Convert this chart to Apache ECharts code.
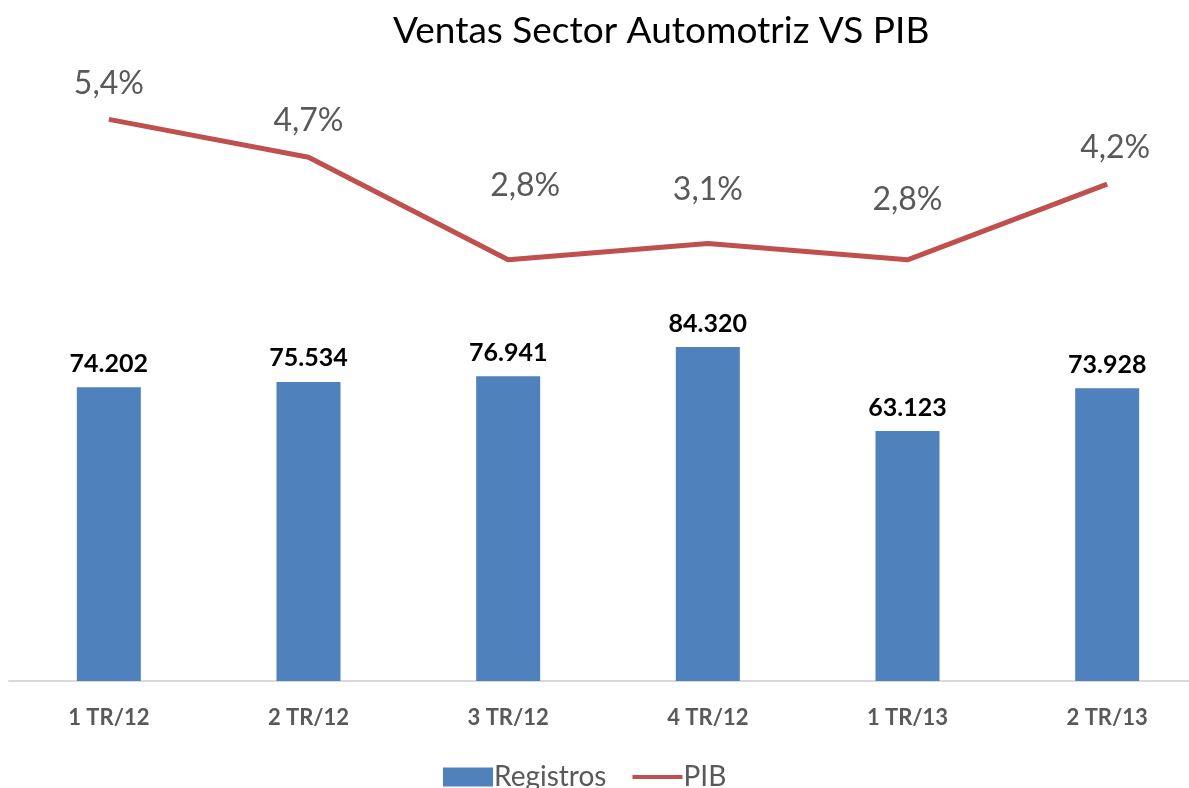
<!DOCTYPE html>
<html>
<head>
<meta charset="utf-8">
<style>
  html, body { margin: 0; padding: 0; background: #fff; overflow: hidden; }
  #chart { width: 1210px; height: 788px; }
</style>
<script src="https://cdn.jsdelivr.net/npm/echarts@6/dist/echarts.min.js"></script>
</head>
<body>
<div id="chart"></div>
<script>
// ===== Ventas Sector Automotriz VS PIB =====
var categories = ['1 TR/12', '2 TR/12', '3 TR/12', '4 TR/12', '1 TR/13', '2 TR/13'];
var registros = [74202, 75534, 76941, 84320, 63123, 73928];
var pib = [5.4, 4.7, 2.8, 3.1, 2.8, 4.2];

// label placement for the PIB line (Excel puts them a bit irregularly)
var pibLabelOffsets = [[0, 0], [0, 0], [17, -38], [0, -18], [0, -24], [8, 0]];

var font = 'Lato, "Open Sans", sans-serif';
var grey = '#595959';

function thousands(v) {
  return String(v).replace(/\B(?=(\d{3})+(?!\d))/g, '.');
}

var chart = echarts.init(document.getElementById('chart'), null, { renderer: 'canvas' });
chart.setOption({
  animation: false,
  title: {
    text: 'Ventas Sector Automotriz VS PIB',
    left: 388,
    top: 8,
    textStyle: { fontFamily: font, fontSize: 37, fontWeight: 'normal', color: '#000' }
  },
  legend: {
    bottom: -8,
    left: 438,
    itemGap: 26,
    itemWidth: 50,
    itemHeight: 19,
    textStyle: { fontFamily: font, fontSize: 28, color: grey, padding: [0, 0, 0, -4] },
    data: [
      { name: 'Registros', icon: 'rect' },
      { name: 'PIB', icon: 'path://M0,4 L50,4 L50,8 L0,8 Z' }
    ]
  },
  grid: { left: 9, top: 87, width: 1198, height: 594 },
  xAxis: {
    type: 'category',
    data: categories,
    axisLine: { lineStyle: { color: '#d9d9d9', width: 2 } },
    axisTick: { show: false },
    axisLabel: { fontFamily: font, fontSize: 22, fontWeight: 'bold', color: grey, margin: 26 }
  },
  yAxis: [
    { type: 'value', min: 0, max: 150000, show: false, splitLine: { show: false } },
    { type: 'value', min: -5, max: 6, show: false, splitLine: { show: false } }
  ],
  series: [
    {
      name: 'Registros',
      type: 'bar',
      data: registros,
      barWidth: 64,
      itemStyle: { color: '#4f81bd' },
      label: {
        show: true,
        position: 'top',
        distance: 11,
        fontFamily: font,
        fontSize: 25,
        fontWeight: 'bold',
        color: '#000',
        formatter: function(p) { return thousands(p.value); }
      }
    },
    {
      name: 'PIB',
      type: 'line',
      yAxisIndex: 1,
      data: pib.map(function(v, i) {
        return { value: v, label: { offset: pibLabelOffsets[i] } };
      }),
      symbol: 'circle',
      symbolSize: 0.1,
      lineStyle: { color: '#c0504d', width: 5 },
      itemStyle: { color: '#c0504d' },
      label: {
        show: true,
        position: 'top',
        distance: 20,
        fontFamily: font,
        fontSize: 32,
        color: grey,
        formatter: function(p) { return p.value.toFixed(1).replace('.', ',') + '%'; }
      }
    }
  ]
});
</script>
</body>
</html>
